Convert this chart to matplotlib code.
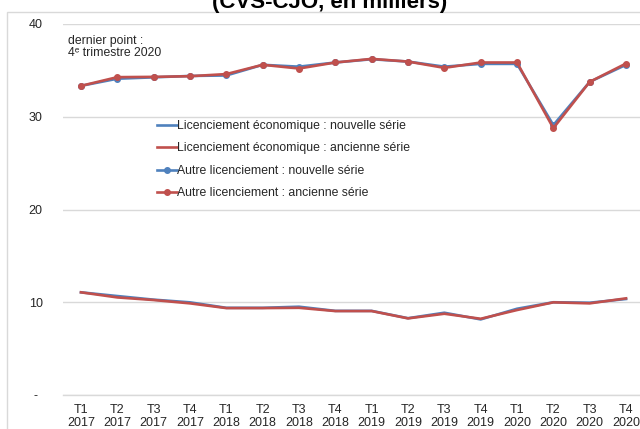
import matplotlib
matplotlib.use("Agg")
import matplotlib.pyplot as plt
from matplotlib.patches import Rectangle

plt.rcParams['font.family'] = ['Liberation Sans', 'DejaVu Sans']

categories = ["T1\n2017", "T2\n2017", "T3\n2017", "T4\n2017",
              "T1\n2018", "T2\n2018", "T3\n2018", "T4\n2018",
              "T1\n2019", "T2\n2019", "T3\n2019", "T4\n2019",
              "T1\n2020", "T2\n2020", "T3\n2020", "T4\n2020"]

eco_nouvelle = [11.07, 10.67, 10.28, 9.99, 9.40, 9.40, 9.52, 9.07,
                9.07, 8.28, 8.87, 8.15, 9.30, 10.00, 9.95, 10.35]
eco_ancienne = [11.07, 10.52, 10.24, 9.88, 9.37, 9.37, 9.40, 9.05,
                9.05, 8.26, 8.76, 8.22, 9.16, 9.99, 9.88, 10.42]
autre_nouvelle = [33.33, 34.10, 34.25, 34.40, 34.45, 35.60, 35.40, 35.85,
                  36.20, 35.95, 35.40, 35.70, 35.70, 29.10, 33.76, 35.60]
autre_ancienne = [33.33, 34.27, 34.30, 34.37, 34.60, 35.60, 35.20, 35.85,
                  36.24, 35.95, 35.27, 35.85, 35.85, 28.77, 33.76, 35.74]

labels = ["Licenciement économique : nouvelle série",
          "Licenciement économique : ancienne série",
          "Autre licenciement : nouvelle série",
          "Autre licenciement : ancienne série"]
yticks = [0, 10, 20, 30, 40]
yticklabels = ["-", "10", "20", "30", "40"]

BLUE = '#4F81BD'
RED = '#C0504D'
GRID = '#D9D9D9'
TXT = '#262626'

W, H = 640, 429
fig = plt.figure(figsize=(W / 100, H / 100), dpi=100)

# outer chart border
fig.patches.append(Rectangle((6.5 / W, -0.1), 1.0, (H - 12) / H + 0.1,
                             transform=fig.transFigure, fill=False,
                             edgecolor=GRID, linewidth=1.0))

left, right = 62.8, 644.2
bottom, top = H - 395, H - 24
ax = fig.add_axes([left / W, bottom / H, (right - left) / W, (top - bottom) / H])

x = list(range(len(categories)))
ax.plot(x, eco_nouvelle, color=BLUE, lw=1.9, label=labels[0], zorder=3)
ax.plot(x, eco_ancienne, color=RED, lw=1.9, label=labels[1], zorder=4)
ax.plot(x, autre_nouvelle, color=BLUE, lw=1.9, marker='o', ms=4,
        label=labels[2], zorder=3)
ax.plot(x, autre_ancienne, color=RED, lw=1.9, marker='o', ms=4,
        label=labels[3], zorder=4)

ax.set_xlim(-0.5, len(categories) - 0.5)
ax.set_ylim(0, 40)
ax.set_yticks(yticks)
ax.set_yticklabels(yticklabels, ha='center')
ax.set_xticks(x)
ax.set_xticklabels(categories, linespacing=1.15)
ax.tick_params(axis='y', length=0, pad=19.5, labelsize=9, colors=TXT)
ax.tick_params(axis='x', length=0, pad=6.5, labelsize=9, colors=TXT)
ax.grid(axis='y', color=GRID, lw=1.0)
ax.set_axisbelow(True)
for s in ['left', 'right', 'top']:
    ax.spines[s].set_visible(False)
ax.spines['bottom'].set_color(GRID)
ax.spines['bottom'].set_linewidth(1.0)

leg = fig.legend(loc='upper left', bbox_to_anchor=(157 / W, (H - 120) / H),
                 frameon=False, fontsize=8.8, handlelength=1.6,
                 handletextpad=0.05, labelspacing=0.85, borderpad=0,
                 borderaxespad=0)
for t in leg.get_texts():
    t.set_color(TXT)

fig.text(68 / W, (H - 41) / H, "dernier point :", fontsize=8.8, va='center',
         color=TXT)
fig.text(68 / W, (H - 53) / H, "4ᵉ trimestre 2020", fontsize=8.8, va='center',
         color=TXT)

fig.text(330 / W, (H - 8) / H, "(CVS-CJO, en milliers)", fontsize=16,
         fontweight='bold', ha='center', va='baseline', color='black')

fig.savefig("out.png", dpi=100)
